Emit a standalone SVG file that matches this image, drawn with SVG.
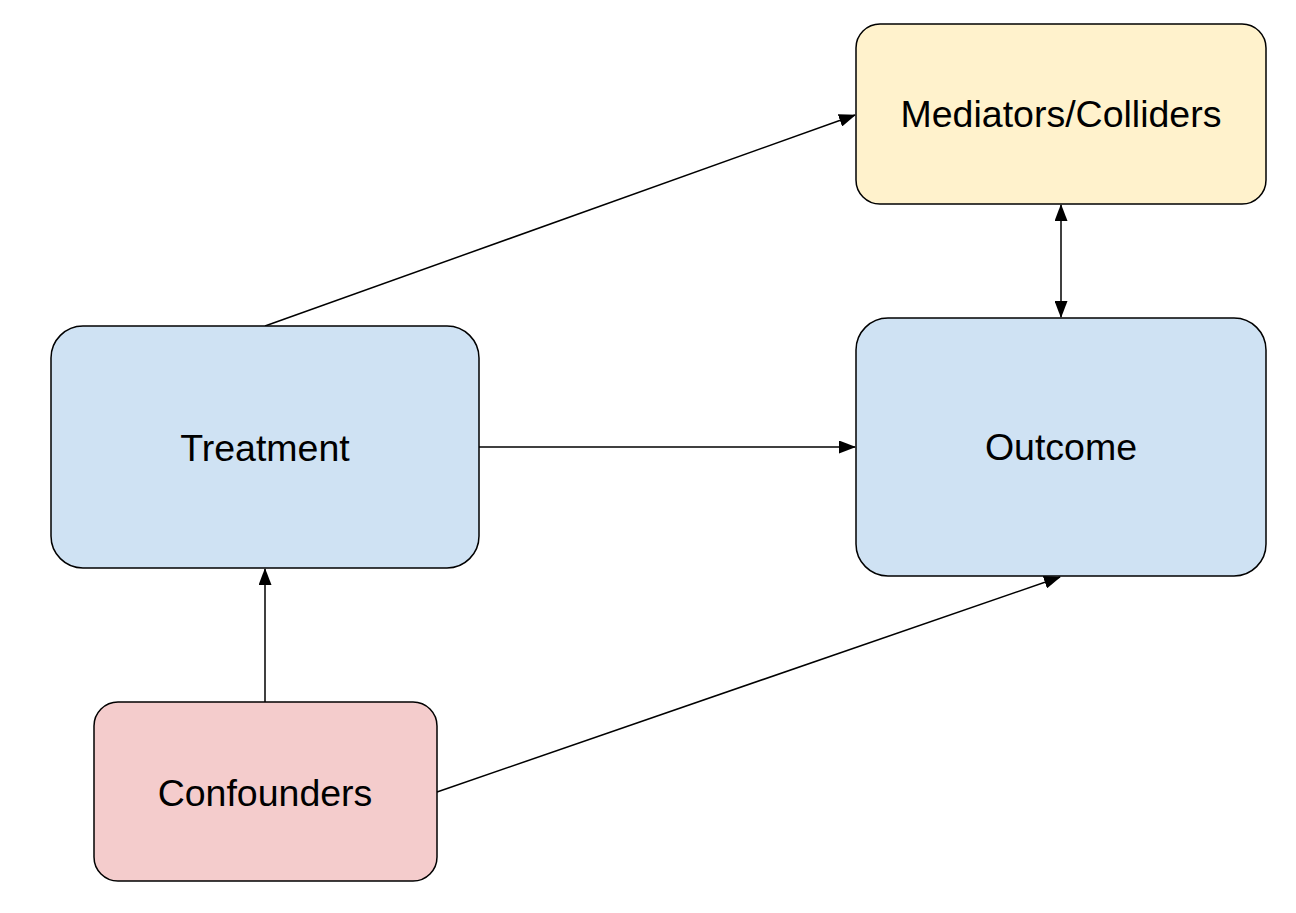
<svg xmlns="http://www.w3.org/2000/svg" width="1296" height="913" viewBox="0 0 1296 913">
<style>
.box{stroke:#000;stroke-width:1.5}
.lbl{font-family:"Liberation Sans",Arial,sans-serif;font-size:37.5px;fill:#000;text-anchor:middle}
.edge{stroke:#000;stroke-width:1.5;fill:none}
</style>
<defs>
<marker id="ah" markerWidth="17" markerHeight="13" refX="16" refY="6.5" orient="auto-start-reverse" markerUnits="userSpaceOnUse">
<path d="M0,0 L17,6.5 L0,13 Z" fill="#000"/>
</marker>
</defs>
<rect width="1296" height="913" fill="#fff"/>
<g id="connectors">
<line class="edge" x1="265" y1="326" x2="855" y2="115" marker-end="url(#ah)"/>
<line class="edge" x1="479" y1="447" x2="855" y2="447" marker-end="url(#ah)"/>
<line class="edge" x1="1061" y1="205" x2="1061" y2="317" marker-start="url(#ah)" marker-end="url(#ah)"/>
<line class="edge" x1="265" y1="702" x2="265" y2="569" marker-end="url(#ah)"/>
<line class="edge" x1="437" y1="792" x2="1060" y2="577" marker-end="url(#ah)"/>
</g>
<g id="mediators">
<rect class="box" x="856" y="24" width="410" height="180" rx="24" fill="#fff2cc"/>
<text class="lbl" x="1061" y="127">Mediators/Colliders</text>
</g>
<g id="treatment">
<rect class="box" x="51" y="326" width="428" height="242" rx="32" fill="#cfe2f3"/>
<text class="lbl" x="265" y="461">Treatment</text>
</g>
<g id="outcome">
<rect class="box" x="856" y="318" width="410" height="258" rx="32" fill="#cfe2f3"/>
<text class="lbl" x="1061" y="460">Outcome</text>
</g>
<g id="confounders">
<rect class="box" x="94" y="702" width="343" height="179" rx="24" fill="#f4cccc"/>
<text class="lbl" x="265" y="806">Confounders</text>
</g>
</svg>
